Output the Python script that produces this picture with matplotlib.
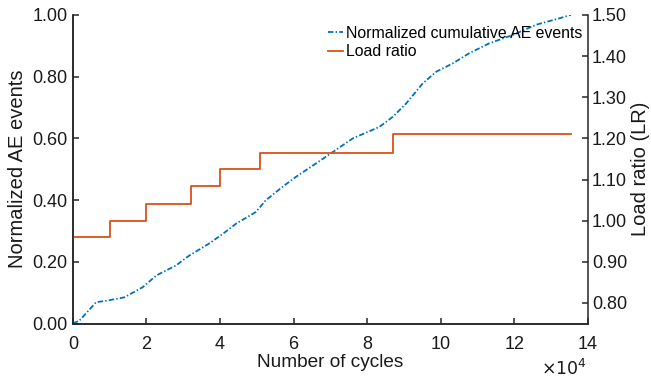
import numpy as np
import matplotlib
matplotlib.use("Agg")
import matplotlib.pyplot as plt

plt.rcParams['font.family'] = ['Liberation Sans', 'DejaVu Sans']

# normalized cumulative AE events (cycles in units of 1e4)
ae_cycles = [0, 0.18, 0.63, 0.96, 1.4, 1.9, 2.27, 2.8, 3.16, 3.7, 4.07, 4.44,
             4.97, 5.24, 5.7, 6.06, 6.6, 7.07, 7.61, 8.33, 8.7, 9.06, 9.51,
             9.88, 10.33, 10.78, 11.32, 11.96, 12.59, 13.23, 13.54]
ae_norm = [0, 0.01, 0.069, 0.075, 0.085, 0.118, 0.156, 0.188, 0.22, 0.259,
           0.29, 0.324, 0.361, 0.399, 0.443, 0.475, 0.518, 0.556, 0.600,
           0.637, 0.670, 0.713, 0.778, 0.816, 0.843, 0.876, 0.908, 0.935,
           0.968, 0.989, 1.0]

# load ratio steps: block start cycles and LR value of each block
lr_start = [0, 1.0, 2.0, 3.2, 4.0, 5.1, 8.7]
lr_end = 13.54
lr_value = [0.96, 1.00, 1.04, 1.085, 1.125, 1.165, 1.21]

blue = '#0072BD'
orange = '#D95319'
axcol = '#262626'

fig = plt.figure(figsize=(6.51, 3.82), dpi=100)
ax = fig.add_axes([0.112, 0.153, 0.791, 0.808])
ax2 = ax.twinx()

l1, = ax.plot(ae_cycles, ae_norm, color=blue, lw=1.3, dashes=(3, 1.2, 0.8, 1.2),
              label='Normalized cumulative AE events')
l2, = ax2.step(lr_start + [lr_end], lr_value + [lr_value[-1]], where='post',
               color=orange, lw=1.3, label='Load ratio')

ax.set_xlim(0, 14)
ax.set_ylim(0, 1)
ax2.set_ylim(0.75, 1.5)
ax.set_xticks(np.arange(0, 15, 2))
ax.set_yticks(np.arange(0, 1.01, 0.2))
ax2.set_yticks(np.arange(0.8, 1.51, 0.1))
ax.yaxis.set_major_formatter(plt.FormatStrFormatter('%.2f'))
ax2.yaxis.set_major_formatter(plt.FormatStrFormatter('%.2f'))

for a in (ax, ax2):
    a.spines['top'].set_visible(False)
    a.tick_params(direction='in', labelsize=13, length=4.5, width=1.1,
                  color=axcol, labelcolor='#1a1a1a')
    for s in a.spines.values():
        s.set_linewidth(1.1)
        s.set_color(axcol)
ax.spines['right'].set_visible(False)
ax.tick_params(axis='x', pad=9)
ax.tick_params(axis='y', pad=4)
ax2.tick_params(axis='y', pad=3)

ax.set_xlabel('Number of cycles', fontsize=13.7, labelpad=1, color='#1a1a1a')
ax.set_ylabel('Normalized AE events', fontsize=14.5, labelpad=4, color='#1a1a1a')
ax2.set_ylabel('Load ratio (LR)', fontsize=14.5, labelpad=3, color='#1a1a1a')
fig.text(587 / 651, 1 - 368 / 382, r'$\times10^{4}$', ha='right', va='center',
         fontsize=12.5, color='#1a1a1a')

ax.legend(handles=[l1, l2], loc='upper right', bbox_to_anchor=(1.01, 1.0),
          frameon=False, fontsize=11.4, handlelength=0.95, handletextpad=0.15,
          borderpad=0.2, labelspacing=0.2)

fig.savefig('out.png', dpi=100)
